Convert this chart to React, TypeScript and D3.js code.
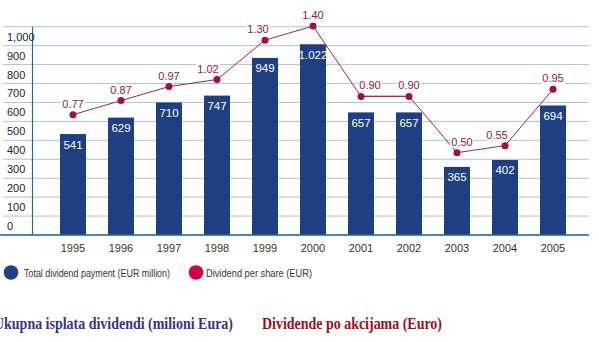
import React from "react";
import * as d3 from "d3";

const years = ["1995","1996","1997","1998","1999","2000","2001","2002","2003","2004","2005"];
const totalPayment = [541, 629, 710, 747, 949, 1022, 657, 657, 365, 402, 694];
const perShare = [0.77, 0.87, 0.97, 1.02, 1.30, 1.40, 0.90, 0.90, 0.50, 0.55, 0.95];
const yTicks = [0, 100, 200, 300, 400, 500, 600, 700, 800, 900, 1000];
const labelDx = [0, 0, 0, -9, -7, 0, 9, 0, 5, -8, 0];

const W = 599, H = 342;
const BLUE = "#1e3f82";
const RED_LINE = "#9c2452";
const RED_DOT = "#a3103a";
const RED_TEXT = "#8e1a3e";
const GRID = "#a9c6da";
const AXIS = "#2b6590";

export default function App() {
  const x = d3.scaleBand<string>().domain(years).range([49, 577]).paddingInner(0.4583).paddingOuter(0.229);
  const yGrid = d3.scaleLinear().domain([0, 1100]).range([235, 26.7]);
  const yBar = d3.scaleLinear().domain([0, 1100]).range([235, 29.7]);
  const yLine = d3.scaleLinear().domain([0, 1.5]).range([223, 12]);
  const cx = (i: number) => (x(years[i]) as number) + x.bandwidth() / 2;
  const line = d3.line<number>().x((_, i) => cx(i)).y((d) => yLine(d));
  const gridVals = d3.range(0, 1200, 100);

  return (
    <svg width={W} height={H} style={{ position: "absolute", left: 0, top: 0, fontFamily: "'Liberation Sans', Arial, sans-serif" }}>
      <rect width={W} height={H} fill="#fff" />
      {gridVals.map((v) => (
        <line key={v} x1={3} x2={589} y1={yGrid(v)} y2={yGrid(v)} stroke={GRID} strokeWidth={1} />
      ))}
      <line x1={32.5} x2={32.5} y1={yGrid(1100)} y2={235} stroke={AXIS} strokeWidth={1.2} />
      {yTicks.map((v) => (
        <text key={v} x={7} y={yGrid(v) - 5} fontSize={11} fill="#222">{d3.format(",")(v)}</text>
      ))}
      {totalPayment.map((v, i) => (
        <g key={i}>
          <rect x={x(years[i])} y={yBar(v)} width={x.bandwidth()} height={235 - yBar(v)} fill={BLUE} />
          <text x={cx(i)} y={yBar(v) + 14.5} fontSize={11.5} fill="#fff" textAnchor="middle">{d3.format(",")(v).replace(",", ".")}</text>
        </g>
      ))}
      <line x1={0} x2={589} y1={235} y2={235} stroke={AXIS} strokeWidth={1.5} />
      {years.map((yr, i) => (
        <text key={yr} x={cx(i)} y={252} fontSize={11} fill="#333" textAnchor="middle">{yr}</text>
      ))}
      <path d={line(perShare) || ""} fill="none" stroke={RED_LINE} strokeWidth={1} />
      <line x1={cx(6)} x2={cx(7)} y1={yLine(perShare[6])} y2={yLine(perShare[7])} stroke="#b5203f" strokeWidth={1.2} />
      {perShare.map((v, i) => {
        const tx = cx(i) + labelDx[i];
        const ty = yLine(v) - 7;
        return (
          <g key={i}>
            <rect x={tx - 12} y={ty - 9} width={24} height={11} fill="#fff" />
            <text x={tx} y={ty} fontSize={11} fill={RED_TEXT} textAnchor="middle">{v.toFixed(2)}</text>
          </g>
        );
      })}
      {perShare.map((v, i) => (
        <circle key={i} cx={cx(i)} cy={yLine(v)} r={3.5} fill={RED_DOT} />
      ))}
      <circle cx={11} cy={272.5} r={7.3} fill="#1f3f87" />
      <text x={24} y={277} fontSize={11} fill="#333" textLength={146} lengthAdjust="spacingAndGlyphs">Total dividend payment (EUR million)</text>
      <circle cx={196} cy={272.5} r={7.3} fill="#d0043a" />
      <text x={206} y={277} fontSize={11} fill="#333" textLength={106} lengthAdjust="spacingAndGlyphs">Dividend per share (EUR)</text>
      <text x={-6} y={329} fontSize={16} fontWeight="bold" fontFamily="'Liberation Serif', 'Times New Roman', serif" fill="#353584" textLength={239} lengthAdjust="spacingAndGlyphs">Ukupna isplata dividendi (milioni Eura)</text>
      <text x={262} y={329} fontSize={16} fontWeight="bold" fontFamily="'Liberation Serif', 'Times New Roman', serif" fill="#9a0f1a" textLength={180} lengthAdjust="spacingAndGlyphs">Dividende po akcijama (Euro)</text>
    </svg>
  );
}
